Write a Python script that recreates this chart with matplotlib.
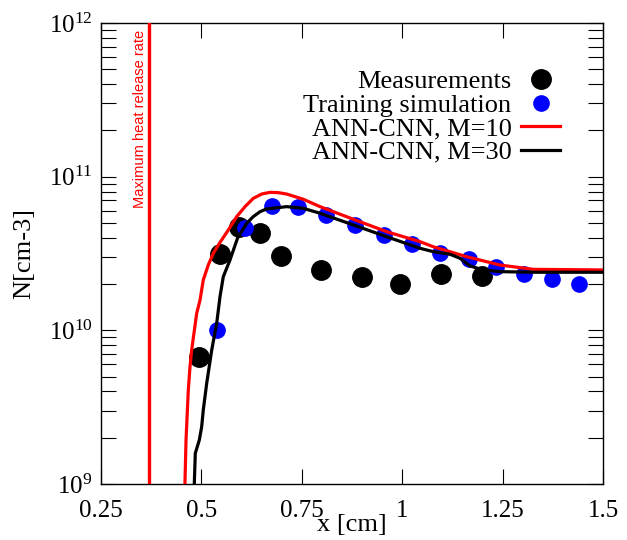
import matplotlib
matplotlib.use('Agg')
import matplotlib.pyplot as plt
import numpy as np

plt.rcParams['font.family'] = ['Liberation Serif', 'DejaVu Serif']
plt.rcParams['mathtext.fontset'] = 'custom'
plt.rcParams['mathtext.rm'] = 'Liberation Serif'
plt.rcParams['mathtext.it'] = 'Liberation Serif:italic'

# Measurements
x_meas = [0.495, 0.546, 0.594, 0.646, 0.697, 0.797, 0.900, 0.995, 1.097, 1.198]
n_meas = [6.74e9, 3.14e10, 4.68e10, 4.28e10, 3.05e10, 2.47e10, 2.23e10, 2.0e10, 2.33e10, 2.27e10]

# Training simulation
x_train = [0.538, 0.609, 0.675, 0.740, 0.810, 0.882, 0.955, 1.025, 1.095, 1.166,
           1.234, 1.303, 1.373, 1.441]
n_train = [1.0e10, 4.61e10, 6.44e10, 6.38e10, 5.63e10, 4.85e10, 4.2e10, 3.65e10,
           3.2e10, 2.9e10, 2.59e10, 2.32e10, 2.16e10, 2.0e10]

# ANN-CNN, M=10 (log10 N)
x_m10 = [0.459, 0.4617, 0.4674, 0.4716, 0.4758, 0.4883, 0.4966, 0.5047, 0.5171,
         0.5296, 0.5463, 0.5671, 0.5879, 0.6086, 0.6292, 0.6502, 0.6708, 0.6915,
         0.7124, 0.7537, 0.7953, 0.8782, 0.9614, 1.0443, 1.0774, 1.1606, 1.2435,
         1.3265, 1.5]
log_m10 = [9.0, 9.286, 9.612, 9.763, 9.872, 10.111, 10.197, 10.328, 10.425,
           10.501, 10.572, 10.653, 10.740, 10.805, 10.859, 10.887, 10.898, 10.896,
           10.887, 10.853, 10.805, 10.723, 10.642, 10.577, 10.544, 10.479, 10.425,
           10.397, 10.393]

# ANN-CNN, M=30 (log10 N)
x_m30 = [0.4823, 0.4848, 0.4948, 0.5007, 0.5047, 0.5132, 0.5257, 0.5381, 0.5463,
         0.5545, 0.5712, 0.59, 0.6128, 0.6292, 0.6459, 0.6626, 0.7124, 0.7537,
         0.7953, 0.8782, 0.9614, 1.0443, 1.0774, 1.119, 1.1439, 1.1688, 1.2019,
         1.2435, 1.3265, 1.5]
log_m30 = [9.0, 9.2, 9.286, 9.373, 9.482, 9.655, 9.872, 10.046, 10.219, 10.349,
           10.458, 10.60, 10.697, 10.740, 10.772, 10.790, 10.805, 10.794, 10.762,
           10.686, 10.609, 10.534, 10.512, 10.495, 10.469, 10.419, 10.393, 10.382,
           10.378, 10.378]

x_hrr = 0.37
x_ticks = [0.25, 0.5, 0.75, 1.0, 1.25, 1.5]
x_tick_labels = ['0.25', '0.5', '0.75', '1', '1.25', '1.5']

fig = plt.figure(figsize=(6.27, 5.4), dpi=100)
ax = fig.add_axes([101 / 627, 1 - 484 / 540, 502 / 627, 461 / 540])

ax.plot(x_meas, n_meas, 'o', color='black', markersize=14, label='Measurements', zorder=2)
ax.plot(x_train, n_train, 'o', color='#0000ff', markersize=11,
        label='Training simulation', zorder=2)
ax.plot(x_m10, 10 ** np.array(log_m10), '-', color='#ff0000', lw=2.3,
        label='ANN-CNN, M=10', zorder=3)
ax.plot(x_m30, 10 ** np.array(log_m30), '-', color='black', lw=2.3,
        label='ANN-CNN, M=30', zorder=3)

# heat release marker
ax.axvline(x_hrr, color='#ff0000', lw=2.4, zorder=3)
ax.text(x_hrr - 0.023, 0.985, 'Maximum heat release rate', color='#ff0000',
        rotation=90, ha='center', va='top', fontsize=10.5,
        family=['Liberation Sans', 'DejaVu Sans'],
        transform=ax.get_xaxis_transform())

ax.set_yscale('log')
ax.set_xlim(0.25, 1.5)
ax.set_ylim(1e9, 1e12)
ax.set_xticks(x_ticks)
ax.set_xticklabels(x_tick_labels)
ax.xaxis.set_minor_locator(matplotlib.ticker.NullLocator())

ax.tick_params(which='both', direction='in', top=True, right=True, width=0.8,
               length=10.5, labelsize=18)
ax.tick_params(axis='x', pad=11.5)
ax.tick_params(axis='y', pad=6)
for sp in ax.spines.values():
    sp.set_linewidth(1.0)

ax.set_xlabel('x [cm]', fontsize=19, labelpad=-6)
ax.set_ylabel('N[cm-3]', fontsize=19, labelpad=10)

ax.legend(loc='upper right', bbox_to_anchor=(0.915, 0.898), frameon=False,
          markerfirst=False, numpoints=1, fontsize=19, handlelength=1.5,
          handletextpad=0.35, labelspacing=0.0, borderpad=0, borderaxespad=0)

fig.savefig('out.png', dpi=100)
